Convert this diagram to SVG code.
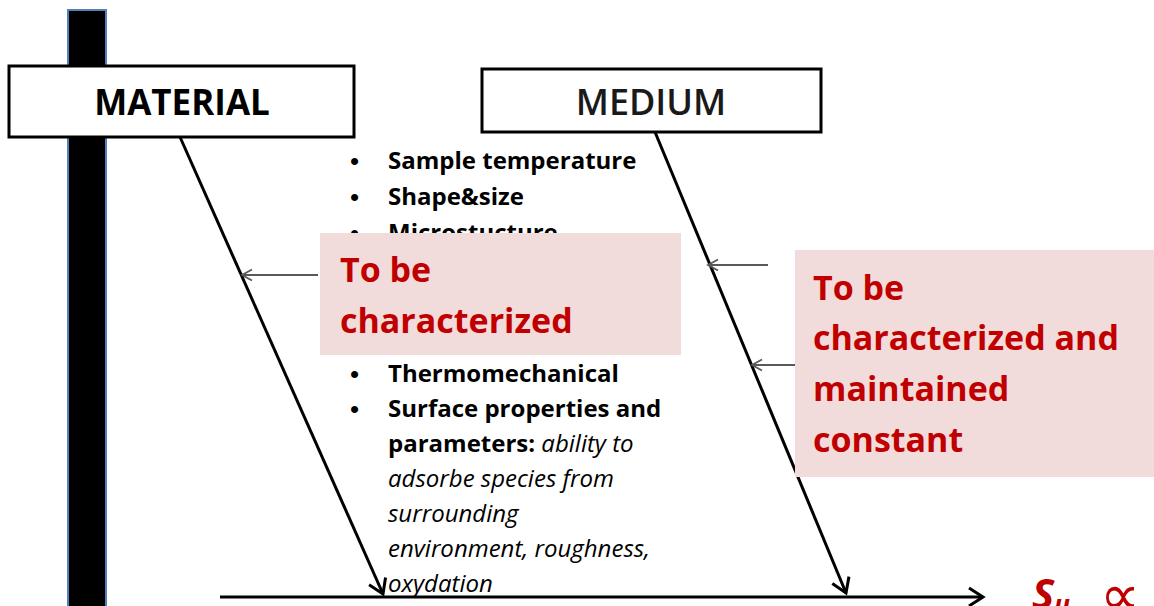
<svg xmlns="http://www.w3.org/2000/svg" width="1154" height="606" viewBox="0 0 1154 606">
<defs>
<style>
.box{fill:#fff;stroke:#000;stroke-width:3}
.pink{fill:#F2DCDB;stroke:none}
.main{stroke:#000;stroke-width:3;fill:none}
.small{stroke:#595959;stroke-width:2;fill:none}
.bul{font-family:"Open Sans","Liberation Sans",sans-serif;font-size:24px;fill:#000}
.dot{font-family:"Liberation Sans",sans-serif;font-size:26px;fill:#000}
.b{font-weight:bold}
.i{font-style:italic}
.red{font-family:"Open Sans","Liberation Sans",sans-serif;font-weight:bold;font-size:34px;fill:#C00000}
</style>
<marker id="big" markerUnits="userSpaceOnUse" markerWidth="20" markerHeight="22" refX="16" refY="10" orient="auto" viewBox="0 0 20 20">
<path d="M2,1 L16,10 L2,19" fill="none" stroke="#000" stroke-width="3"/>
</marker>
<marker id="sm" markerUnits="userSpaceOnUse" markerWidth="14" markerHeight="14" refX="12" refY="7" orient="auto" viewBox="0 0 14 14">
<path d="M2,1.5 L12,7 L2,12.5" fill="none" stroke="#595959" stroke-width="1.8"/>
</marker>
</defs>
<rect x="68" y="10" width="38" height="606" fill="#000" stroke="#4F81BD" stroke-width="2"/>
<g id="connectors">
<line class="main" x1="180" y1="137" x2="383" y2="594" marker-end="url(#big)"/>
<line class="main" x1="655" y1="132" x2="846" y2="593" marker-end="url(#big)"/>
<line class="main" x1="220" y1="597" x2="983" y2="597" marker-end="url(#big)"/>
<line class="small" x1="318" y1="275" x2="242" y2="275" marker-end="url(#sm)"/>
<line class="small" x1="768" y1="265" x2="708" y2="265" marker-end="url(#sm)"/>
<line class="small" x1="796" y1="365" x2="752" y2="365" marker-end="url(#sm)"/>
</g>
<g id="material">
<rect class="box" x="9" y="66" width="345" height="71"/>
<text x="182" y="115" text-anchor="middle" font-family="'Open Sans','Liberation Sans',sans-serif" font-weight="bold" font-size="35" fill="#000">MATERIAL</text>
</g>
<g id="medium">
<rect class="box" x="482" y="69" width="339" height="63"/>
<text x="651" y="115" text-anchor="middle" font-family="'Open Sans','Liberation Sans',sans-serif" font-weight="600" font-size="36" fill="#1a1a1a">MEDIUM</text>
</g>
<g id="list">
<text class="dot" x="350" y="170">•</text><text class="bul b" x="388" y="169">Sample temperature</text>
<text class="dot" x="350" y="206">•</text><text class="bul b" x="388" y="205">Shape&amp;size</text>
<text class="dot" x="350" y="242">•</text><text class="bul b" x="388" y="241">Microstucture</text>
<text class="dot" x="350" y="383">•</text><text class="bul b" x="388" y="382">Thermomechanical</text>
<text class="dot" x="350" y="418">•</text><text class="bul b" x="388" y="417">Surface properties and</text>
<text class="bul" x="388" y="452"><tspan class="b">parameters:</tspan><tspan class="i"> ability to</tspan></text>
<text class="bul i" x="388" y="487">adsorbe species from</text>
<text class="bul i" x="388" y="522">surrounding</text>
<text class="bul i" x="388" y="557">environment, roughness,</text>
<text class="bul i" x="388" y="592">oxydation</text>
</g>
<g id="note-material">
<rect class="pink" x="320" y="233" width="361" height="122"/>
<text class="red" x="340" y="282">To be</text>
<text class="red" x="340" y="333">characterized</text>
</g>
<g id="note-medium">
<rect class="pink" x="795" y="250" width="359" height="227"/>
<text class="red" x="813" y="300">To be</text>
<text class="red" x="813" y="350">characterized and</text>
<text class="red" x="813" y="401">maintained</text>
<text class="red" x="813" y="452">constant</text>
</g>
<g id="result">
<text x="1032" y="609" font-family="'Open Sans','Liberation Sans',sans-serif" font-weight="bold" font-style="italic" font-size="42" fill="#C00000">S<tspan font-size="26" dy="5">u</tspan></text>
<text x="1100" y="614" font-family="'DejaVu Sans',sans-serif" font-size="56" fill="#C00000">∝</text>
</g>
</svg>
